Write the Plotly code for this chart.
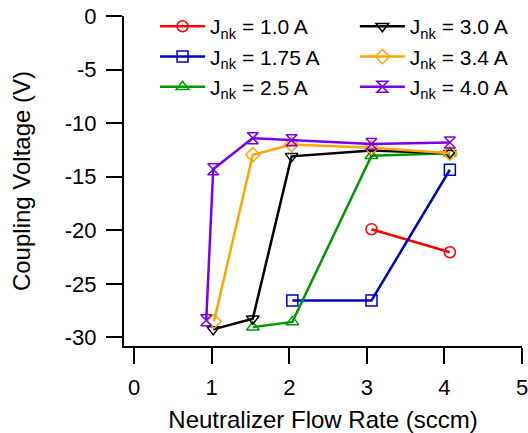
import plotly.graph_objects as go

# Coupling voltage vs. neutralizer flow rate for several keeper currents
labels = ["J<sub>nk</sub> = 1.0 A", "J<sub>nk</sub> = 1.75 A", "J<sub>nk</sub> = 2.5 A",
          "J<sub>nk</sub> = 3.0 A", "J<sub>nk</sub> = 3.4 A", "J<sub>nk</sub> = 4.0 A"]

flow_10 = [3.06, 4.07]
volt_10 = [-19.9, -22.05]

flow_175 = [2.04, 3.06, 4.07]
volt_175 = [-26.55, -26.55, -14.35]

flow_25 = [1.53, 2.04, 3.06, 4.07]
volt_25 = [-29.05, -28.55, -13.05, -12.8]

flow_30 = [1.02, 1.53, 2.03, 3.06, 4.07]
volt_30 = [-29.25, -28.25, -13.1, -12.55, -12.8]

flow_34 = [1.03, 1.53, 2.03, 3.06, 4.07]
volt_34 = [-28.5, -12.95, -12.0, -12.3, -12.8]

flow_40 = [0.93, 1.02, 1.53, 2.03, 3.06, 4.07]
volt_40 = [-28.4, -14.3, -11.4, -11.6, -11.95, -11.8]

x_ticks = [0, 1, 2, 3, 4, 5]
y_ticks = [0, -5, -10, -15, -20, -25, -30]

series = [
    (flow_10, volt_10, "#FF0000", "circle-open", "legend"),
    (flow_175, volt_175, "#0000CC", "square-open", "legend"),
    (flow_25, volt_25, "#009900", "triangle-up-open", "legend"),
    (flow_30, volt_30, "#000000", "triangle-down-open", "legend2"),
    (flow_34, volt_34, "#FFA500", "diamond-open", "legend2"),
    (flow_40, volt_40, "#7A00E8", "hourglass-open", "legend2"),
]

fig = go.Figure()
for (xs, ys, color, sym, leg), name in zip(series, labels):
    fig.add_trace(go.Scatter(
        x=xs, y=ys, mode="lines+markers", name=name, legend=leg,
        line=dict(color=color, width=2.5),
        marker=dict(symbol=sym, size=11, color=color, line=dict(color=color, width=1.5)),
    ))

FONT = "Liberation Sans, Arial, sans-serif"
W, H = 528, 433

legend_common = dict(
    xanchor="left", yanchor="top",
    bgcolor="rgba(0,0,0,0)", borderwidth=0,
    font=dict(family=FONT, size=21, color="black"),
    itemwidth=45, tracegroupgap=0,
)

fig.update_layout(
    width=W, height=H,
    margin=dict(l=124, r=6, t=16, b=87, autoexpand=False),
    paper_bgcolor="white", plot_bgcolor="white",
    font=dict(family=FONT, size=20, color="black"),
    showlegend=True,
    legend=dict(x=0.078, y=1.03, **legend_common),
    legend2=dict(x=0.580, y=1.03, **legend_common),
    xaxis=dict(
        range=[-0.13, 5.0], tickvals=x_ticks, ticktext=[str(v) for v in x_ticks],
        showgrid=False, zeroline=False, showline=True, linecolor="black", linewidth=2,
        ticks="outside", ticklen=16, tickwidth=2, tickcolor="black",
        tickfont=dict(size=22), ticklabelstandoff=5, ticklabeloverflow="allow",
        title=dict(text="Neutralizer Flow Rate (sccm)", standoff=14),
    ),
    yaxis=dict(
        range=[-30.8, 0.0], tickvals=y_ticks, ticktext=[str(v) for v in y_ticks],
        showgrid=False, zeroline=False, showline=True, linecolor="black", linewidth=2,
        ticks="outside", ticklen=16, tickwidth=2, tickcolor="black",
        tickfont=dict(size=22), ticklabelstandoff=5, ticklabeloverflow="allow",
        title=dict(text="Coupling Voltage (V)", standoff=27),
    ),
)

fig.write_html("out.html")
